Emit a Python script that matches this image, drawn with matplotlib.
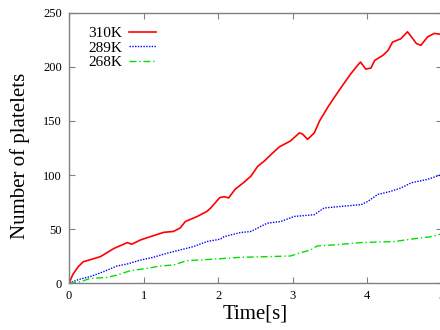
import numpy as np
import matplotlib
matplotlib.use("Agg")
import matplotlib.pyplot as plt

plt.rcParams['font.family'] = ['Liberation Serif', 'DejaVu Serif']

# curves (time in s, number of platelets)
t_310 = [0, 0.05, 0.12, 0.19, 0.3, 0.42, 0.6, 0.78, 0.84, 0.96, 1.09, 1.27, 1.4, 1.49,
         1.56, 1.72, 1.85, 1.9, 2.02, 2.08, 2.14, 2.23, 2.35, 2.44, 2.53, 2.62, 2.71,
         2.82, 2.97, 3.09, 3.13, 3.2, 3.29, 3.36, 3.47, 3.56, 3.67, 3.78, 3.87, 3.91,
         3.98, 4.05, 4.1, 4.21, 4.28, 4.34, 4.45, 4.54, 4.58, 4.66, 4.72, 4.81, 4.9, 5.0]
n_310 = [0, 8, 15, 19.8, 22, 24.5, 32, 37.5, 36, 40, 43, 47, 47.8, 51,
         57, 61.7, 66.4, 69.5, 79, 80, 78.8, 87, 93.5, 99, 108, 113, 119,
         126, 131.5, 139, 138, 133, 139, 150, 162.6, 172, 183, 193.7, 201.4, 204.5,
         198, 199, 206, 210.7, 215.3, 223, 226, 232.5, 229, 221.6, 220, 227.8, 231, 230]

t_289 = [0, 0.13, 0.28, 0.46, 0.64, 0.78, 0.96, 1.13, 1.31, 1.49, 1.67, 1.85, 2.03,
         2.08, 2.3, 2.44, 2.53, 2.66, 2.84, 3.02, 3.29, 3.42, 3.65, 3.92, 4.01, 4.14,
         4.32, 4.45, 4.59, 4.81, 5.0]
n_289 = [0, 3.4, 6, 10.5, 15.8, 17.7, 21.4, 23.9, 27.6, 30.7, 33.8, 38.5, 40.7,
         43, 46.8, 47.8, 51, 55.5, 57, 61.7, 63.3, 69.5, 71, 72.6, 75.7, 82,
         85, 88, 92.8, 96, 100.5]

t_268 = [0, 0.15, 0.28, 0.51, 0.64, 0.82, 1.05, 1.22, 1.4, 1.58, 1.9, 2.3, 2.66,
         2.97, 3.11, 3.24, 3.33, 3.56, 3.92, 4.37, 4.59, 4.86, 5.0]
n_268 = [0, 1.2, 4.3, 5.3, 7.4, 11.5, 13.7, 15.8, 16.8, 20.8, 22, 23.9, 24.5,
         25.1, 28.2, 30.7, 34.4, 35.4, 37.5, 38.5, 40.7, 43, 45.6]

labels = ["310K", "289K", "268K"]

fig = plt.figure(figsize=(4.4, 3.3), dpi=100)
ax = fig.add_axes([0.157, 0.142, 0.847, 0.819])

ax.plot(t_310, n_310, color="#ff0000", lw=1.2, label=labels[0])
ax.plot(t_289, n_289, color="#0000ff", lw=1.0, ls=(0, (1, 1)), label=labels[1])
ax.plot(t_268, n_268, color="#00e000", lw=1.0, ls=(0, (5, 2, 1, 2)), label=labels[2])

ax.set_xlim(0, 5)
ax.set_ylim(0, 250)
ax.set_xticks([0, 1, 2, 3, 4, 5])
ax.set_yticks([0, 50, 100, 150, 200, 250])
for s in ax.spines.values():
    s.set_color("#808080")
    s.set_linewidth(1.0)
ax.tick_params(direction="in", top=True, right=True, length=4, color="#808080",
               labelsize=9, pad=5)
ax.set_xlabel("Time[s]", fontsize=15, labelpad=2)
ax.set_ylabel("Number of platelets", fontsize=15)
ax.yaxis.set_label_coords(-0.105, 0.47)

leg = ax.legend(loc="upper left", bbox_to_anchor=(0.015, 1.0), frameon=False,
                markerfirst=False, fontsize=11, handlelength=1.8,
                labelspacing=0.05, handletextpad=0.4)

fig.savefig("out.png", dpi=100)
